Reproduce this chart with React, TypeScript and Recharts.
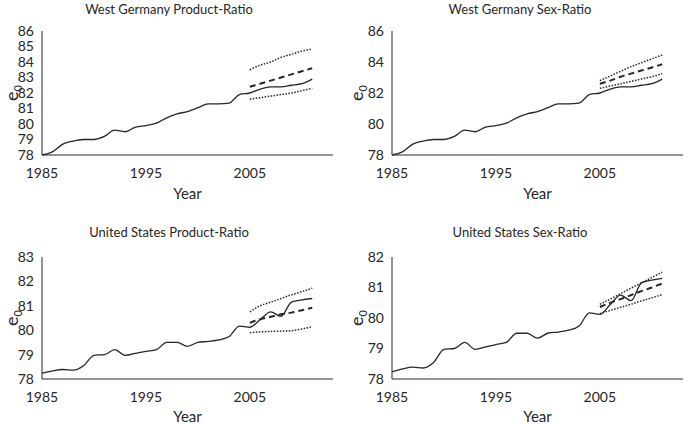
import { LineChart, Line, XAxis, YAxis } from 'recharts'

const years = [
  1985, 1986, 1987, 1988, 1989, 1990, 1991, 1992, 1993, 1994, 1995, 1996, 1997, 1998,
  1999, 2000, 2001, 2002, 2003, 2004, 2005, 2006, 2007, 2008, 2009, 2010, 2011,
]
const forecastYears = [2005, 2006, 2007, 2008, 2009, 2010, 2011]
const xTicks = [1985, 1995, 2005]

// observed life expectancy
const wgActual = [
  78.0, 78.2, 78.7, 78.9, 79.0, 79.0, 79.2, 79.6, 79.5, 79.8, 79.9, 80.05, 80.4, 80.65,
  80.8, 81.05, 81.3, 81.3, 81.35, 81.9, 82.0, 82.25, 82.4, 82.4, 82.5, 82.6, 82.9,
]
const usActual = [
  78.23, 78.33, 78.39, 78.36, 78.54, 78.97, 79.0, 79.2, 78.97, 79.05, 79.13, 79.2, 79.5,
  79.5, 79.34, 79.5, 79.54, 79.6, 79.74, 80.17, 80.12, 80.44, 80.75, 80.57, 81.15, 81.24,
  81.3,
]

// forecasts: mean, upper and lower bound
const wgProdMean = [82.4, 82.6, 82.8, 83.0, 83.2, 83.4, 83.6]
const wgProdUpper = [83.5, 83.8, 84.0, 84.3, 84.5, 84.7, 84.85]
const wgProdLower = [81.6, 81.7, 81.8, 81.9, 82.0, 82.15, 82.3]

const wgSexMean = [82.6, 82.8, 83.05, 83.25, 83.45, 83.65, 83.85]
const wgSexUpper = [82.8, 83.1, 83.4, 83.7, 83.95, 84.2, 84.45]
const wgSexLower = [82.3, 82.45, 82.6, 82.75, 82.9, 83.05, 83.25]

const usProdMean = [80.3, 80.45, 80.55, 80.65, 80.72, 80.82, 80.92]
const usProdUpper = [80.75, 81.0, 81.15, 81.3, 81.45, 81.58, 81.72]
const usProdLower = [79.9, 79.93, 79.95, 79.96, 79.98, 80.05, 80.14]

const usSexMean = [80.36, 80.5, 80.62, 80.75, 80.88, 81.0, 81.13]
const usSexUpper = [80.45, 80.62, 80.8, 80.98, 81.15, 81.33, 81.5]
const usSexLower = [80.14, 80.25, 80.35, 80.45, 80.56, 80.66, 80.77]

const wgProdTicks = [78, 79, 80, 81, 82, 83, 84, 85, 86]
const wgSexTicks = [78, 80, 82, 84, 86]
const usProdTicks = [78, 79, 80, 81, 82, 83]
const usSexTicks = [78, 79, 80, 81, 82]

const FONT = 'Lato, "Open Sans", sans-serif'
const INK = '#262626'

function buildRows(actual: number[], mean: number[], upper: number[], lower: number[]) {
  return years.map((yr, i) => {
    const j = forecastYears.indexOf(yr)
    return {
      year: yr,
      actual: actual[i],
      mean: j >= 0 ? mean[j] : null,
      upper: j >= 0 ? upper[j] : null,
      lower: j >= 0 ? lower[j] : null,
    }
  })
}

interface PanelProps {
  title: string
  left: number
  top: number
  width: number
  height: number
  margin: { top: number; right: number; left: number; bottom: number }
  axisWidth: number
  xAxisHeight: number
  yTicks: number[]
  rows: ReturnType<typeof buildRows>
  titleX: number
  titleY: number
  labelX: number
  labelY: number
}

function Panel(p: PanelProps) {
  const tick = { fontSize: 14, fill: INK, fontFamily: FONT }
  return (
    <>
      <div
        style={{
          position: 'absolute',
          left: p.titleX - 150,
          top: p.titleY - 8,
          width: 300,
          textAlign: 'center',
          fontSize: 13,
          lineHeight: '16px',
          color: INK,
          fontFamily: FONT,
        }}
      >
        {p.title}
      </div>
      <div
        style={{
          position: 'absolute',
          left: p.labelX,
          top: p.labelY,
          transform: 'translate(-50%, -50%) rotate(-90deg)',
          fontSize: 18,
          lineHeight: '14px',
          color: INK,
          fontFamily: FONT,
          whiteSpace: 'nowrap',
        }}
      >
        e<sub style={{ fontSize: 11, lineHeight: 0 }}>0</sub>
      </div>
      <div style={{ position: 'absolute', left: p.left, top: p.top }}>
        <LineChart width={p.width} height={p.height} data={p.rows} margin={p.margin}>
          <XAxis
            dataKey="year"
            type="number"
            domain={[1985, 2013]}
            ticks={xTicks}
            tickLine={false}
            tickSize={0}
            tickMargin={13}
            height={p.xAxisHeight}
            tick={tick}
            stroke={INK}
            label={{
              value: 'Year',
              position: 'insideBottom',
              offset: 0,
              style: { fontSize: 15, fill: INK, fontFamily: FONT },
            }}
          />
          <YAxis
            type="number"
            domain={[p.yTicks[0], p.yTicks[p.yTicks.length - 1]]}
            ticks={p.yTicks}
            interval={0}
            tickLine={false}
            tickSize={0}
            tickMargin={8}
            width={p.axisWidth}
            tick={tick}
            stroke={INK}
          />
          <Line
            dataKey="actual"
            type="monotone"
            stroke={INK}
            strokeWidth={1.3}
            dot={false}
            isAnimationActive={false}
          />
          <Line
            dataKey="mean"
            type="monotone"
            stroke={INK}
            strokeWidth={2}
            strokeDasharray="6 4"
            dot={false}
            isAnimationActive={false}
          />
          <Line
            dataKey="upper"
            type="monotone"
            stroke={INK}
            strokeWidth={1.5}
            strokeDasharray="1.5 1.5"
            dot={false}
            isAnimationActive={false}
          />
          <Line
            dataKey="lower"
            type="monotone"
            stroke={INK}
            strokeWidth={1.5}
            strokeDasharray="1.5 1.5"
            dot={false}
            isAnimationActive={false}
          />
        </LineChart>
      </div>
    </>
  )
}

export default function App() {
  return (
    <div
      style={{
        position: 'absolute',
        left: 0,
        top: 0,
        width: 685,
        height: 424,
        background: '#fff',
        overflow: 'hidden',
      }}
    >
      <Panel
        title="West Germany Product-Ratio"
        left={0}
        top={0}
        width={340}
        height={210}
        margin={{ top: 31, right: 7, left: 0, bottom: 11 }}
        axisWidth={42}
        xAxisHeight={44}
        yTicks={wgProdTicks}
        rows={buildRows(wgActual, wgProdMean, wgProdUpper, wgProdLower)}
        titleX={169}
        titleY={9}
        labelX={11}
        labelY={93}
      />
      <Panel
        title="West Germany Sex-Ratio"
        left={340}
        top={0}
        width={345}
        height={210}
        margin={{ top: 31, right: 2, left: 0, bottom: 11 }}
        axisWidth={52}
        xAxisHeight={44}
        yTicks={wgSexTicks}
        rows={buildRows(wgActual, wgSexMean, wgSexUpper, wgSexLower)}
        titleX={520}
        titleY={9}
        labelX={356}
        labelY={93}
      />
      <Panel
        title="United States Product-Ratio"
        left={0}
        top={210}
        width={340}
        height={214}
        margin={{ top: 47, right: 7, left: 0, bottom: 2 }}
        axisWidth={42}
        xAxisHeight={43}
        yTicks={usProdTicks}
        rows={buildRows(usActual, usProdMean, usProdUpper, usProdLower)}
        titleX={169}
        titleY={232}
        labelX={11}
        labelY={318}
      />
      <Panel
        title="United States Sex-Ratio"
        left={340}
        top={210}
        width={345}
        height={214}
        margin={{ top: 47, right: 2, left: 0, bottom: 2 }}
        axisWidth={52}
        xAxisHeight={43}
        yTicks={usSexTicks}
        rows={buildRows(usActual, usSexMean, usSexUpper, usSexLower)}
        titleX={520}
        titleY={232}
        labelX={356}
        labelY={318}
      />
    </div>
  )
}
